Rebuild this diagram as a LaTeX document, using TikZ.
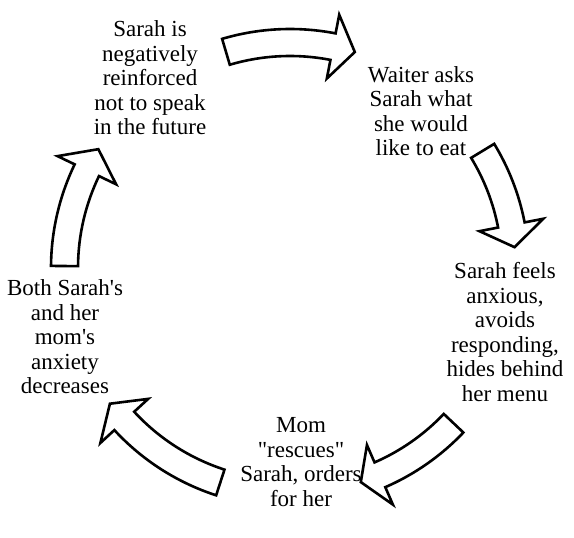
\documentclass[tikz,border=0pt]{standalone}
\usepackage{fontspec}
\setmainfont{Liberation Serif}
\tikzset{
  cyclearrow/.style={draw=black, line width=1.3pt, fill=white, line join=miter},
  stage/.style={align=center, inner sep=0pt, font=\fontsize{11.5}{12.25}\selectfont}
}
\begin{document}
\begin{tikzpicture}[x=0.5pt,y=0.5pt]
    \useasboundingbox (0,0) rectangle (574,537);
    \coordinate (hub) at (290,269);
    % block arrows round the cycle: tail / neck / tip angles
    \foreach \tl/\nk/\tp in {106.5/79/73.3, 31.3/11/5.3, -43.5/-66.5/-71.7, -108/-137.3/-143, 179.5/154.3/148.2} {
        \draw[cyclearrow,shift={(hub)}] (\tl:239) arc[start angle=\tl,end angle=\nk,radius=239]
            -- (\nk:258) -- (\tp:225.5) -- (\nk:193) -- (\nk:212)
            arc[start angle=\nk,end angle=\tl,radius=212] -- cycle;
    }
    \node[stage] (reinforce) at (150,459) {Sarah is\\negatively\\reinforced\\not to speak\\in the future};
    \node[stage] (waiter) at (421,426) {Waiter asks\\Sarah what\\she would\\like to eat};
    \node[stage] (anxious) at (505,205) {Sarah feels\\anxious,\\avoids\\responding,\\hides behind\\her menu};
    \node[stage] (rescue) at (301,75) {Mom\\\textquotedbl rescues\textquotedbl\\Sarah, orders\\for her};
    \node[stage] (relief) at (65,200) {Both Sarah\textquotesingle s\\and her\\mom\textquotesingle s\\anxiety\\decreases};
\end{tikzpicture}
\end{document}
